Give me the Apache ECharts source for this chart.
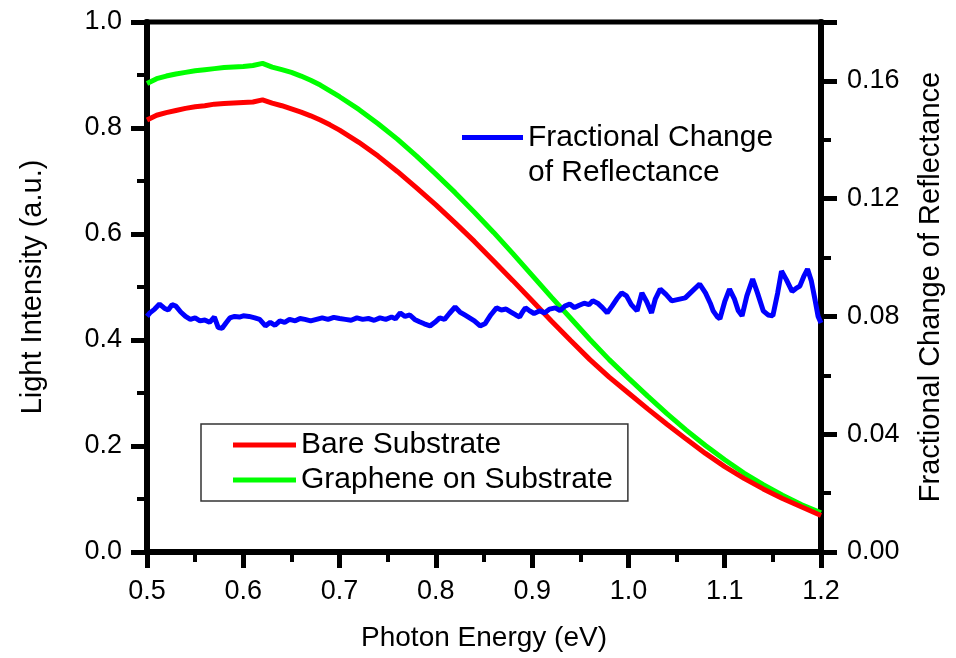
<!DOCTYPE html>
<html>
<head>
<meta charset="utf-8">
<script src="https://cdn.jsdelivr.net/npm/echarts@6/dist/echarts.min.js"></script>
<style>html,body{margin:0;padding:0;background:#fff}#c{width:956px;height:658px}</style>
</head>
<body>
<div id="c"></div>
<script>
// ---- data ----
const xTicksBottom = ['0.5','0.6','0.7','0.8','0.9','1.0','1.1','1.2'];
const leftTicks = ['0.0','0.2','0.4','0.6','0.8','1.0'];
const rightTicks = ['0.00','0.04','0.08','0.12','0.16'];

const energyMain = [0.50,0.51,0.52,0.53,0.54,0.55,0.56,0.57,0.58,0.59,0.60,0.61,0.62,0.63,0.64,0.65,0.66,0.67,0.68,0.69,0.70,
  0.72,0.74,0.76,0.78,0.80,0.82,0.84,0.86,0.88,0.90,0.92,0.94,0.96,0.98,1.00,1.02,1.04,1.06,1.08,1.10,1.12,1.14,1.16,1.18,1.20];
const bareSubstrate = [0.815,0.824,0.829,0.833,0.837,0.840,0.842,0.845,0.846,0.847,0.848,0.849,0.853,0.847,0.842,0.836,0.830,0.823,0.815,0.806,0.796,
  0.773,0.747,0.718,0.687,0.655,0.621,0.586,0.549,0.512,0.474,0.436,0.399,0.363,0.330,0.300,0.270,0.241,0.213,0.186,0.161,0.139,0.119,0.101,0.085,0.069];
const grapheneOnSubstrate = [0.884,0.893,0.898,0.902,0.905,0.908,0.910,0.912,0.914,0.915,0.916,0.918,0.922,0.915,0.910,0.905,0.898,0.890,0.881,0.870,0.859,
  0.835,0.808,0.779,0.747,0.713,0.678,0.641,0.603,0.563,0.522,0.481,0.441,0.401,0.363,0.328,0.294,0.261,0.230,0.201,0.174,0.149,0.127,0.107,0.089,0.074];

const energyFrac = [0.500,0.503,0.508,0.513,0.518,0.522,0.526,0.530,0.535,0.540,0.545,0.550,0.555,0.560,0.565,0.570,0.574,0.578,0.582,0.586,0.591,0.596,0.600,
  0.606,0.612,0.617,0.623,0.628,0.633,0.638,0.643,0.648,0.654,0.659,0.664,0.670,0.676,0.682,0.688,0.694,0.700,0.706,0.712,0.718,0.724,0.730,0.736,0.742,0.748,
  0.754,0.758,0.763,0.768,0.773,0.778,0.783,0.788,0.794,0.799,0.804,0.809,0.814,0.820,0.825,0.830,0.835,0.840,0.846,0.851,0.857,0.863,0.868,0.873,0.878,0.883,
  0.887,0.890,0.893,0.897,0.902,0.908,0.913,0.918,0.924,0.929,0.934,0.939,0.944,0.949,0.954,0.959,0.963,0.968,0.973,0.978,0.983,0.988,0.993,0.998,1.003,1.009,
  1.014,1.019,1.024,1.028,1.033,1.039,1.045,1.052,1.059,1.066,1.074,1.080,1.085,1.088,1.092,1.095,1.100,1.105,1.110,1.114,1.118,1.123,1.129,1.134,1.140,1.145,
  1.150,1.155,1.159,1.164,1.170,1.174,1.178,1.182,1.186,1.190,1.194,1.197,1.200];
const fractionalChange = [0.0800,0.0812,0.0825,0.0842,0.0828,0.0822,0.0840,0.0835,0.0815,0.0800,0.0790,0.0795,0.0785,0.0788,0.0780,0.0798,0.0762,0.0760,0.0778,0.0795,0.0800,0.0798,0.0802,
  0.0800,0.0795,0.0790,0.0768,0.0780,0.0770,0.0785,0.0780,0.0790,0.0785,0.0793,0.0790,0.0785,0.0790,0.0795,0.0790,0.0797,0.0793,0.0790,0.0787,0.0795,0.0790,0.0793,0.0787,0.0795,0.0790,
  0.0798,0.0792,0.0812,0.0800,0.0805,0.0790,0.0782,0.0775,0.0768,0.0780,0.0795,0.0790,0.0810,0.0832,0.0815,0.0805,0.0795,0.0785,0.0768,0.0775,0.0805,0.0829,0.0822,0.0825,0.0815,0.0805,
  0.0798,0.0815,0.0829,0.0820,0.0810,0.0819,0.0812,0.0825,0.0829,0.0820,0.0835,0.0842,0.0830,0.0838,0.0845,0.0840,0.0853,0.0845,0.0830,0.0812,0.0835,0.0860,0.0880,0.0870,0.0840,0.0819,
  0.0880,0.0850,0.0812,0.0860,0.0893,0.0875,0.0853,0.0858,0.0863,0.0885,0.0910,0.0880,0.0845,0.0819,0.0800,0.0792,0.0850,0.0893,0.0860,0.0820,0.0802,0.0870,0.0927,0.0880,0.0819,0.0805,
  0.0802,0.0880,0.0954,0.0925,0.0885,0.0895,0.0903,0.0935,0.0961,0.0920,0.0853,0.0800,0.0778];

const seriesNames = ['Bare Substrate','Graphene on Substrate','Fractional Change of Reflectance'];
const axisTitles = {x:'Photon Energy (eV)', left:'Light Intensity (a.u.)', right:'Fractional Change of Reflectance'};

// ---- chart ----
const FONT = '"Liberation Sans", Arial, sans-serif';
const pair = (xs, ys) => xs.map((x, i) => [x, ys[i]]);
const chart = echarts.init(document.getElementById('c'), null, {renderer:'canvas'});
const axisBase = {
  axisLine:{show:true, onZero:false, lineStyle:{color:'#000', width:6}},
  axisTick:{show:true, inside:false, length:16, lineStyle:{color:'#000', width:5}},
  minorTick:{show:true, splitNumber:2, length:10, lineStyle:{color:'#000', width:4}},
  splitLine:{show:false},
  axisLabel:{color:'#000', fontFamily:FONT, fontSize:27},
  nameTextStyle:{color:'#000', fontFamily:FONT, fontSize:28}
};
chart.setOption({
  animation:false,
  backgroundColor:'#fff',
  grid:{left:147, right:135, top:22, bottom:106, show:true, borderColor:'#000', borderWidth:5, backgroundColor:'transparent'},
  xAxis:[Object.assign({}, axisBase, {
    type:'value', min:0.5, max:1.2, interval:0.1,
    axisLabel:Object.assign({}, axisBase.axisLabel, {margin:26, formatter:v => xTicksBottom[Math.round((v-0.5)*10)] ?? ''}),
    name:axisTitles.x, nameLocation:'middle', nameGap:72
  })],
  yAxis:[Object.assign({}, axisBase, {
    type:'value', min:0, max:1, interval:0.2, position:'left',
    axisLabel:Object.assign({}, axisBase.axisLabel, {margin:25, formatter:v => leftTicks[Math.round(v*5)] ?? ''}),
    name:axisTitles.left, nameLocation:'middle', nameGap:100,
    nameTextStyle:Object.assign({}, axisBase.nameTextStyle, {fontSize:29})
  }), Object.assign({}, axisBase, {
    type:'value', min:0, max:0.18, interval:0.04, position:'right',
    axisLabel:Object.assign({}, axisBase.axisLabel, {margin:26, showMaxLabel:false, formatter:v => {
      const k = v/0.04; return Math.abs(k-Math.round(k))<1e-6 ? (rightTicks[Math.round(k)] ?? '') : '';}}),
    name:axisTitles.right, nameLocation:'middle', nameGap:95,
    nameTextStyle:Object.assign({}, axisBase.nameTextStyle, {fontSize:29})
  })],
  legend:[{
    data:[seriesNames[0], seriesNames[1]], orient:'vertical', left:201, top:424,
    padding:[6,15,6,32], itemGap:5, itemWidth:63, itemHeight:5, icon:'rect',
    borderColor:'#333', borderWidth:1.5,
    textStyle:{color:'#000', fontFamily:FONT, fontSize:30}
  },{
    data:[seriesNames[2]], orient:'vertical', left:462, top:85, padding:0,
    itemWidth:61, itemHeight:5, icon:'rect',
    formatter:() => '\nFractional Change\nof Reflectance',
    textStyle:{color:'#000', fontFamily:FONT, fontSize:30, lineHeight:35}
  }],
  series:[
    {name:seriesNames[0], type:'line', xAxisIndex:0, yAxisIndex:0, data:pair(energyMain, bareSubstrate), showSymbol:false, symbol:'none', lineStyle:{color:'#ff0000', width:5}, itemStyle:{color:'#ff0000'}, z:3},
    {name:seriesNames[1], type:'line', xAxisIndex:0, yAxisIndex:0, data:pair(energyMain, grapheneOnSubstrate), showSymbol:false, symbol:'none', lineStyle:{color:'#00ff00', width:5}, itemStyle:{color:'#00ff00'}, z:2},
    {name:seriesNames[2], type:'line', xAxisIndex:0, yAxisIndex:1, data:pair(energyFrac, fractionalChange), showSymbol:false, symbol:'none', lineStyle:{color:'#0000ff', width:5}, itemStyle:{color:'#0000ff'}, z:4}
  ]
});
</script>
</body>
</html>
